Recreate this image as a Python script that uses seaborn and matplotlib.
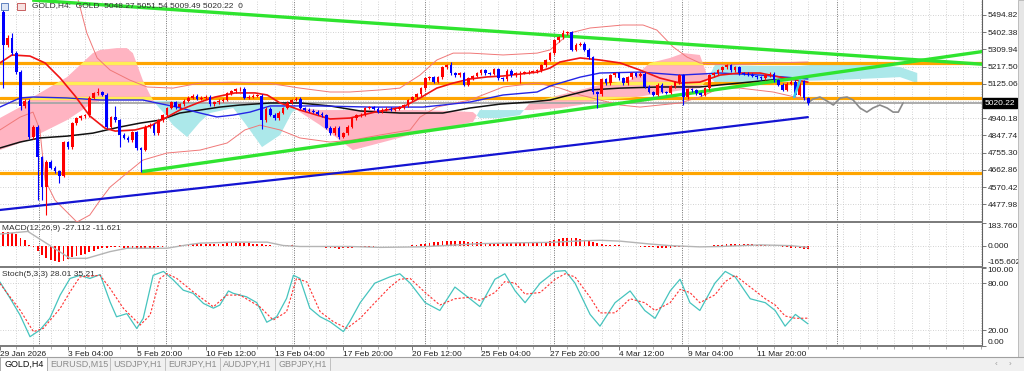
import matplotlib
matplotlib.use("Agg")
import matplotlib.pyplot as plt
from matplotlib.path import Path
from matplotlib.patches import Rectangle
from matplotlib.lines import Line2D
import matplotlib.transforms as mtransforms
import numpy as np
import pandas as pd
import seaborn as sns

sns.set_theme(style="white")
plt.rcParams["font.family"] = ["Liberation Sans Narrow", "Liberation Sans", "DejaVu Sans"]
plt.rcParams["axes.unicode_minus"] = False

# ---- GOLD H4 candles (bar 0 = 29 Jan 12:00) ----
first_open = 5511
closes = [
    5334, 5371, 5290, 5188, 5005, 5035, 4839, 4893, 4731, 4570,
    4705, 4673, 4655, 4630, 4810, 4785, 4914, 4940, 4950, 4955,
    5050, 5075, 5080, 5065, 4893, 4945, 4930, 4850, 4834, 4823,
    4866, 4780, 4770, 4893, 4905, 4860, 4930, 4955, 4995, 5025,
    5000, 5015, 5035, 5050, 5062, 5045, 5050, 5055, 5015, 5025,
    5035, 5040, 5075, 5085, 5095, 5098, 5050, 5055, 5060, 5062,
    4930, 4990, 4960, 4940, 4970, 4995, 5022, 5038, 5045, 4995,
    4985, 4980, 4975, 4965, 4957, 4890, 4860, 4890, 4840, 4860,
    4893, 4940, 4957, 4960, 4995, 5000, 4990, 4975, 4985, 4990,
    4985, 4992, 5000, 5011, 5038, 5054, 5070, 5102, 5156, 5161,
    5135, 5161, 5215, 5226, 5183, 5172, 5183, 5119, 5156, 5167,
    5183, 5199, 5183, 5178, 5204, 5156, 5150, 5194, 5172, 5183,
    5185, 5188, 5190, 5193, 5199, 5226, 5253, 5290, 5360, 5375,
    5398, 5402, 5307, 5334, 5340, 5307, 5269, 5080, 5070, 5150,
    5129, 5172, 5183, 5156, 5129, 5161, 5183, 5167, 5178, 5108,
    5081, 5065, 5119, 5081, 5076, 5113, 5134, 5172, 5054, 5095,
    5090, 5075, 5065, 5102, 5172, 5183, 5199, 5215, 5226, 5199,
    5215, 5183, 5180, 5175, 5167, 5160, 5156, 5172, 5178, 5145,
    5119, 5092, 5125, 5135, 5065, 5140, 5048.27, 5020.22,
]
upper_wick = [
    38, 18, 25, 12, 10, 8, 8, 8, 8, 8, 10, 8, 8, 8, 8, 8, 8, 8, 8, 8,
    8, 8, 20, 8, 8, 8, 60, 8, 8, 8, 8, 8, 8, 8, 8, 8, 8, 8, 8, 8,
    8, 8, 8, 8, 8, 8, 8, 8, 8, 8, 8, 8, 8, 8, 8, 8, 8, 8, 8, 8,
    6, 8, 8, 8, 8, 8, 8, 8, 8, 8, 8, 8, 8, 8, 8, 8, 8, 8, 8, 8,
    8, 8, 8, 8, 8, 8, 8, 8, 8, 8, 8, 8, 8, 8, 8, 8, 8, 8, 8, 8,
    8, 8, 8, 8, 15, 8, 8, 8, 8, 8, 8, 8, 8, 8, 8, 8, 8, 8, 8, 8,
    8, 8, 8, 8, 8, 8, 8, 8, 8, 8, 16, 8, 8, 8, 8, 8, 8, 8, 8, 8,
    8, 8, 8, 8, 8, 8, 8, 8, 8, 8, 8, 8, 8, 8, 8, 8, 8, 8, 8, 8,
    8, 8, 8, 8, 8, 8, 8, 8, 8, 8, 8, 8, 8, 8, 8, 8, 8, 8, 8, 8,
    8, 8, 8, 8, 8, 8, 5, 3.27,
]
lower_wick = [
    230, 10, 10, 10, 20, 8, 10, 8, 230, 70, 150, 8, 8, 40, 8, 8, 8, 8, 8, 8,
    8, 8, 8, 8, 8, 8, 8, 65, 8, 8, 8, 8, 120, 8, 8, 8, 8, 8, 8, 8,
    8, 8, 8, 8, 8, 8, 8, 8, 8, 8, 8, 8, 8, 8, 8, 8, 8, 8, 8, 8,
    50, 8, 8, 8, 8, 8, 8, 8, 8, 8, 8, 8, 8, 8, 8, 8, 8, 8, 10, 8,
    8, 8, 8, 8, 8, 8, 8, 8, 8, 8, 8, 8, 8, 8, 8, 8, 8, 8, 8, 8,
    8, 8, 8, 8, 8, 8, 8, 8, 8, 8, 8, 8, 8, 8, 8, 8, 8, 8, 8, 8,
    55, 8, 8, 8, 8, 8, 8, 8, 8, 8, 8, 8, 8, 8, 8, 8, 8, 8, 75, 8,
    8, 8, 8, 8, 8, 8, 8, 8, 8, 8, 8, 8, 8, 8, 8, 8, 8, 8, 45, 8,
    8, 8, 8, 8, 8, 8, 8, 8, 8, 8, 8, 8, 8, 8, 8, 8, 8, 8, 8, 8,
    8, 8, 8, 8, 8, 8, 8, 10.73,
]

# ---- moving averages / bands, sampled along the chart (bar, price) ----
red_bar = [-0.8, 2.0, 6.2, 9.7, 13.2, 16.7, 20.1, 23.6, 26.0, 30.6, 34.1, 37.6, 41.0, 45.7, 49.2,
           53.8, 58.5, 61.3, 64.3, 68.9, 75.9, 80.5, 86.3, 92.8, 96.8, 100.7, 104.5, 108.4, 112.4,
           116.1, 124.0, 127.0, 129.3, 134.0, 138.6, 143.3, 147.9, 152.5, 157.2, 161.8, 166.5,
           171.1, 175.8, 180.4, 186.9]
red_ma = [5237, 5280, 5274, 5237, 5156, 5059, 4952, 4887, 4871, 4877, 4898, 4941, 4984, 5027, 5054,
          5076, 5076, 5065, 5022, 4984, 4936, 4941, 4973, 5000, 5049, 5102, 5129, 5151, 5162,
          5167, 5188, 5210, 5242, 5264, 5253, 5237, 5199, 5156, 5129, 5134, 5172,
          5183, 5183, 5161, 5134]
blue_bar = [-0.8, 3.9, 6.9, 14.8, 22.5, 32.4, 35.7, 40.3, 45.7, 49.6, 53.4, 57.3, 62.0, 73.6, 85.2,
            97.5, 102.1, 108.4, 116.1, 124.0, 127.0, 129.3, 134.0, 138.6, 147.9, 157.2, 166.5,
            175.8, 186.9]
blue_ma = [5000, 5049, 5054, 5049, 5038, 5038, 5022, 5000, 4968, 4947, 4957, 4973, 5006, 5006, 5000,
           5000, 5011, 5027, 5065, 5081, 5113, 5129, 5161, 5183, 5188, 5172, 5183, 5172, 5151]
black_bar = [-0.8, 3.9, 8.5, 14.8, 20.8, 27.1, 31.8, 36.4, 41.0, 45.7, 50.3, 55.0, 62.0, 68.9, 75.9,
             82.9, 92.1, 102.1, 108.4, 115.4, 122.3, 127.0, 131.6, 136.3, 143.3, 152.5, 161.8,
             166.5, 178.1, 186.9]
black_ma = [4780, 4812, 4834, 4844, 4860, 4893, 4914, 4930, 4968, 4984, 5000, 5011, 5022, 5022, 5006,
            4979, 4968, 4968, 4995, 5016, 5027, 5038, 5065, 5092, 5102, 5108, 5108, 5119, 5145, 5161]
long_bar = [-0.8, 80.5, 161.8, 186.9]
long_ma = [4447, 4653, 4876, 4946]

bbu_bar = [13.2, 17.4, 19.4, 21.8, 24.8, 29.4, 33.4, 39.4, 45.7, 53.4, 61.3, 68.9, 75.9, 80.5, 87.5,
           92.1, 96.8, 100.7, 104.5, 108.4, 116.1, 124.0, 127.0, 131.6, 136.3, 143.9, 148.6, 151.8,
           155.6, 158.8, 161.8, 168.1, 178.8, 186.9]
bb_upper = [5790, 5575, 5398, 5264, 5199, 5145, 5108, 5102, 5129, 5134, 5129, 5102, 5081, 5081, 5092,
            5102, 5172, 5253, 5290, 5290, 5280, 5290, 5307, 5398, 5425, 5441, 5441, 5414,
            5323, 5269, 5237, 5226, 5237, 5242]
bbl_bar = [-0.8, 3.9, 6.9, 8.5, 9.7, 12.0, 17.1, 20.1, 22.5, 24.8, 28.7, 32.4, 38.0, 45.7, 52.0,
           56.1, 59.6, 64.3, 68.9, 75.9, 81.2, 87.5, 94.5, 96.8, 100.7, 108.4, 116.1, 124.0, 129.3,
           134.0, 138.6, 143.3, 147.9, 152.5, 157.2, 161.8, 166.5, 171.1, 178.8, 186.9]
bb_lower = [4877, 4946, 4973, 4877, 4608, 4500, 4382, 4420, 4500, 4570, 4645, 4715, 4753, 4769, 4807,
            4877, 4903, 4877, 4834, 4812, 4823, 4850, 4877, 4946, 5000, 5038, 5108, 5129, 5102,
            5065, 5038, 5011, 5000, 5011, 5022, 5054, 5102, 5102, 5081, 5038]

# ---- Ichimoku cloud (shifted 26 bars ahead) ----
kumo_bar = [-0.8, 3.9, 6.9, 14.8, 20.8, 22.5, 26.4, 28.7, 30.1, 32.4, 34.1, 35.2, 37.1, 39.4, 42.7,
            45.7, 48.0, 53.4, 56.1, 60.1, 64.3, 67.1, 68.9, 73.6, 81.2, 87.5, 96.1, 103.8, 109.1,
            110.7, 115.4, 120.0, 122.3, 129.3, 134.0, 138.6, 145.6, 150.2, 154.9, 158.0, 161.8,
            163.5, 165.3, 175.8, 185.1, 192.8, 203.7, 208.3, 212.3]
span_a = [4941, 5000, 5054, 5161, 5290, 5307, 5317, 5317, 5290, 5145, 5065, 5022, 4973, 4903, 4839,
          4920, 4968, 4995, 4914, 4785, 4850, 4973, 4995, 4984, 4984, 4984, 4984, 4979, 4973,
          4941, 4941, 4957, 5022, 5065, 5092, 5119, 5145, 5237, 5264, 5290, 5280,
          5172, 5134, 5134, 5140, 5145, 5156, 5161, 5129]
span_b = [4769, 4807, 4839, 4930, 5022, 5033, 5038, 5038, 5038, 5038, 5033, 5033, 5033, 5033, 5027,
          5027, 5022, 5022, 5016, 5016, 5016, 5006, 4973, 4903, 4769, 4807, 4860, 4893, 4920,
          4984, 4984, 4984, 4984, 4995, 5011, 5038, 5049, 5065, 5081, 5092, 5102,
          5145, 5226, 5221, 5221, 5237, 5226, 5215, 5183]

# ---- drawn objects ----
orange_levels = [5237, 5129, 5049, 4646]
bid_price = 5020.22
green_down = ([6.7, 212.9], [5575, 5253])
green_up = ([32.15, 227.3], [4653, 5298])
wave_bar = [186.9, 188.1, 189.7, 191.3, 192.8, 194.4, 196.0, 197.4, 199.0, 200.6, 202.0, 203.6,
            205.3, 206.7, 207.9, 209.0]
wave_price = [5022, 5043, 5054, 5033, 5011, 5049, 5054, 5038, 4995, 4973, 4995, 5011,
              4995, 4973, 4973, 5022]
cyan_bar = [183.7, 185.1]
cyan_price = [5054, 5145]
sep_bars = [8.3, 37.8, 67.5, 98.0, 128.0, 157.7, 193.7]

# ---- MACD(12,26,9) ----
macd_hist = [
    110, 110, 102, 98, 67, 48, 8, -5, -40, -77, -99, -112, -125, -130, -120, -107, -93, -83, -72, -64,
    -51, -40, -29, -19, -19, -13, -11, -12, -15, -18, -20, -22, -24, -22, -18, -14, -10, -6, -4, -2,
    0, 4, 8, 12, 15, 17, 18, 19, 18, 18, 18, 19, 20, 21, 22, 22, 21, 20, 19, 18,
    12, 8, 5, 3, 2, 3, 4, 4, 2, 0, -3, -5, -8, -10, -12, -15, -18, -20, -22, -20,
    -18, -15, -13, -11, -9, -7, -5, -4, -3, -2, -2, -1, 0, 1, 2, 4, 8, 12, 18, 24,
    28, 32, 36, 38, 40, 40, 38, 36, 34, 32, 30, 28, 27, 26, 25, 25, 24, 24, 23, 23,
    22, 22, 22, 23, 25, 28, 33, 40, 48, 55, 60, 62, 62, 60, 55, 50, 42, 30, 20, 14,
    10, 8, 6, 4, 2, 0, -2, -4, -6, -8, -10, -12, -14, -15, -15, -14, -12, -10, -9, -8,
    -6, -4, -2, 0, 2, 5, 8, 10, 12, 14, 15, 15, 14, 13, 12, 10, 8, 6, 4, 2,
    -2, -6, -10, -14, -16, -20, -24, -27.112,
]
macd_sig_bar = [-0.8, 5.7, 15.5, 19.4, 24.8, 28.7, 38.0, 42.7, 45.7, 53.4, 61.3, 65.0, 68.9, 80.5,
                87.5, 96.8, 103.8, 110.7, 120.0, 127.0, 134.0, 138.6, 143.3, 150.2, 154.9, 161.8,
                166.5, 175.8, 182.8, 186.9]
macd_sig = [95, 116, -100, -100, -46, -19, -19, 8, 22, 30, 30, 3, -5, -5,
            -12, -8, 5, 18, 25, 28, 40, 45, 38, 15, 2, -8,
            -5, 8, 2, -11.621]

# ---- Stochastic(5,3,3) ----
stoch_k_bar = [-0.8, 1.6, 3.9, 6.2, 8.5, 10.8, 13.2, 15.5, 17.8, 20.1, 22.5, 24.8, 26.3, 28.7, 31.0,
               32.5, 34.8, 37.2, 39.5, 41.8, 44.1, 46.5, 48.8, 50.3, 52.3, 53.4, 56.5, 58.9, 61.2,
               63.5, 65.8, 67.4, 68.9, 71.2, 73.6, 75.9, 79.0, 80.5, 82.9, 86.3, 89.8, 92.1, 94.5,
               98.0, 101.4, 104.9, 108.4, 110.7, 114.2, 116.5, 118.9, 121.2, 124.7, 128.2, 130.5,
               132.8, 136.3, 138.6, 142.1, 145.6, 149.0, 151.4, 154.9, 157.2, 159.5, 161.8, 165.3,
               167.7, 170.0, 173.5, 177.0, 179.3, 181.6, 184.0, 186.9]
stoch_k = [81.6, 60.5, 39, 11.5, 20, 35, 64.7, 86, 90, 86, 91, 56, 37, 41, 22,
           35, 90, 95, 84, 71, 67, 54, 48, 52, 70, 67, 62.5, 55, 30,
           37, 60.5, 90, 86, 48, 37, 30.6, 18, 31, 55, 80, 88, 92, 80,
           55, 45, 75, 60, 50, 85, 92, 70, 55, 80, 95, 96,
           80, 40, 25, 55, 70, 45, 35, 70, 85, 55, 45, 80,
           95, 88, 60, 55, 45, 25, 40, 28.01]
stoch_d_bar = [-0.8, 3.9, 7.0, 9.3, 13.2, 15.5, 17.8, 22.5, 24.8, 27.9, 31.8, 34.1, 36.4, 38.0,
               40.3, 44.1, 48.8, 51.9, 55.0, 59.6, 62.7, 65.8, 68.1, 70.5, 73.6, 76.7, 79.8,
               82.9, 86.3, 89.8, 92.1, 94.5, 98.0, 101.4, 104.9, 108.4, 110.7, 114.2, 116.5,
               118.9, 121.2, 124.7, 128.2, 130.5, 132.8, 136.3, 138.6, 142.1, 145.6, 149.0,
               151.4, 154.9, 157.2, 159.5, 161.8, 165.3, 167.7, 170.0, 173.5, 177.0, 179.3,
               181.6, 184.0, 186.9]
stoch_d = [79.6, 45.5, 17.9, 22.2, 47.7, 68.9, 88, 90, 73.2, 47.7, 26.4, 39.2, 86, 92.3,
           86, 68.9, 49.7, 64.7, 64.7, 49.7, 32.8, 43.4, 86, 81.6, 43.4, 30.6, 22.2,
           35, 55, 75, 85, 86, 68, 52, 60, 62, 58, 68, 82,
           80, 66, 68, 85, 92, 88, 62, 42, 42, 60, 55,
           45, 55, 72, 68, 55, 65, 82, 90, 75, 60, 52,
           38, 35, 35.21]

time_tick_bar = [-0.77, 15, 31, 47, 63, 79, 95, 111, 127, 143, 159, 175]
time_labels = ["29 Jan 2026", "3 Feb 04:00", "5 Feb 20:00", "10 Feb 12:00", "13 Feb 04:00",
               "17 Feb 20:00", "20 Feb 12:00", "25 Feb 04:00", "27 Feb 20:00", "4 Mar 12:00",
               "9 Mar 04:00", "11 Mar 20:00"]
price_ticks = [5494.82, 5402.38, 5309.94, 5217.50, 5125.06, 5032.62, 4940.18, 4847.74,
               4755.30, 4662.86, 4570.42, 4477.98]
tabs = ["GOLD,H4", "EURUSD,M15", "USDJPY,H1", "EURJPY,H1", "AUDJPY,H1", "GBPJPY,H1"]
tab_edges = [0, 48, 110, 165, 220, 275, 330]

# ---------------------------------------------------------------
W, H = 1024, 371
FS = 6
fig = plt.figure(figsize=(W / 100, H / 100), dpi=100)
fig.patch.set_facecolor("white")


def panel(top, bottom):
    return fig.add_axes([0, 1 - bottom / H, 982 / W, (bottom - top) / H])


ax = panel(0, 221.5)
axm = panel(223, 266.5)
axs = panel(267.5, 345.7)

GRID = "#C4C4C4"
grid_bars = np.arange(3, 228, 4)
for a in (ax, axm, axs):
    a.set_xlim(-0.767, 227.34)
    a.set_facecolor("white")
    a.spines["top"].set_visible(False)
    a.spines["left"].set_visible(False)
    a.spines["right"].set_color("#606060")
    a.spines["right"].set_linewidth(0.8)
    a.spines["bottom"].set_color("#7A7A7A")
    a.spines["bottom"].set_linewidth(1.4)
    a.yaxis.tick_right()
    a.tick_params(axis="y", direction="out", length=3, width=0.6, colors="#606060",
                  labelsize=FS, pad=1, labelcolor="#202020")
    a.tick_params(axis="x", bottom=False, labelbottom=False)
    for b in grid_bars:
        a.axvline(b, color=GRID, lw=0.6, ls=(0, (1, 2)), zorder=0)
    for b in sep_bars:
        a.axvline(b, color="#6E6E6E", lw=0.7, ls=(0, (1, 1.4)), zorder=0.5)

# ---------------- main price panel ----------------
ax.set_ylim(4385.1, 5575.4)
ax.set_yticks(price_ticks)
ax.set_yticklabels(["" if abs(p - 5032.62) < 0.01 else f"{p:.2f}" for p in price_ticks])
for p in price_ticks:
    ax.axhline(p, color=GRID, lw=0.6, ls=(0, (1, 2)), zorder=0)

a_arr = np.array(span_a, float)
b_arr = np.array(span_b, float)
pink = ax.fill_between(kumo_bar, a_arr, b_arr, where=a_arr >= b_arr, interpolate=True,
                       color="#FFB4C2", lw=0, zorder=1)
ax.fill_between(kumo_bar, a_arr, b_arr, where=a_arr <= b_arr, interpolate=True,
                color="#ACE8EA", lw=0, zorder=1)

pink_path = Path.make_compound_path(*pink.get_paths())
for lvl in orange_levels:
    ax.axhline(lvl, color="#FFA500", lw=2.3, zorder=2)
    ln = ax.axhline(lvl, color="#FFEE55", lw=2.3, zorder=2.1)
    ln.set_clip_path(pink_path, ax.transData)
ax.axhline(bid_price, color="#A6A6A6", lw=1.3, zorder=2.2)

lines = [
    (bbu_bar, bb_upper, "#F07878", 0.7),
    (bbl_bar, bb_lower, "#F07878", 0.7),
    (black_bar, black_ma, "#111111", 1.1),
    (blue_bar, blue_ma, "#2424E6", 1.0),
    (red_bar, red_ma, "#F01414", 1.2),
    (long_bar, long_ma, "#1414D2", 1.6),
]
for xs, ys, col, lw in lines:
    sns.lineplot(x=xs, y=ys, ax=ax, color=col, lw=lw, estimator=None, zorder=3, legend=False)

for (gx, gy) in (green_down, green_up):
    slope = (gy[1] - gy[0]) / (gx[1] - gx[0])
    x_end = 230
    ax.plot([gx[0], x_end], [gy[0], gy[0] + slope * (x_end - gx[0])],
            color="#2FE42F", lw=2.4, zorder=4, solid_capstyle="butt")

sns.lineplot(x=wave_bar, y=wave_price, ax=ax, color="#8A8A8A", lw=1.2, estimator=None,
             sort=False, zorder=4, legend=False)
sns.lineplot(x=cyan_bar, y=cyan_price, ax=ax, color="#38C8EC", lw=1.8, estimator=None,
             zorder=6, legend=False)

# candles
o = np.array([first_open] + closes[:-1], float)
c = np.array(closes, float)
hi = np.maximum(o, c) + np.array(upper_wick, float)
lo = np.minimum(o, c) - np.array(lower_wick, float)
bars = np.arange(len(c))
cols = np.where(c > o, "#FF0000", "#0000FF")
body = c - o
body = np.where(np.abs(body) < 2.5, np.where(body >= 0, 2.5, -2.5), body)
ax.vlines(bars, lo, hi, colors=cols, lw=0.8, zorder=5)
ax.bar(bars, body, bottom=o, width=0.62, color=cols, linewidth=0, zorder=5.1)

ax.set_xlabel("")
ax.set_ylabel("")

# current price box
trans = mtransforms.blended_transform_factory(ax.transAxes, ax.transData)
ax.text(1.003, bid_price, f"{bid_price:.2f}", transform=trans, ha="left", va="center",
        fontsize=FS, color="white", clip_on=False, zorder=10,
        bbox=dict(boxstyle="square,pad=0.2", fc="black", ec="black"))

# header
ax.text(32 / 982, 1 - 6 / 221.5, "GOLD,H4:  GOLD  5048.27 5051.54 5009.49 5020.22  0",
        transform=ax.transAxes, fontsize=FS, va="center", ha="left", color="#303030", zorder=10)
ax.add_patch(Rectangle((1 / 982, 1 - 10 / 221.5), 7 / 982, 7 / 221.5, transform=ax.transAxes,
                       fc="#DDE6F5", ec="#4A6FB5", lw=0.6, zorder=10))
ax.add_patch(Rectangle((17 / 982, 1 - 10 / 221.5), 8 / 982, 7 / 221.5, transform=ax.transAxes,
                       fc="#F7E2E2", ec="#C04848", lw=0.6, zorder=10))

# ---------------- MACD panel ----------------
axm.set_ylim(-165.602, 183.76)
axm.axhline(0, color=GRID, lw=0.6, ls=(0, (1, 2)), zorder=0)
axm.bar(np.arange(len(macd_hist)), macd_hist, width=0.42, color="#FF0000", linewidth=0, zorder=3)
sns.lineplot(x=macd_sig_bar, y=macd_sig, ax=axm, color="#B4B4B4", lw=1.0, estimator=None,
             zorder=4, legend=False)
axm.set_yticks([183.76, 0, -165.602])
axm.set_yticklabels(["183.760", "0.000", "-165.602"])
tl = axm.get_yticklabels()
tl[0].set_va("top")
tl[2].set_va("bottom")
axm.text(2 / 982, 0.88, "MACD(12,26,9) -27.112 -11.621", transform=axm.transAxes, fontsize=FS,
         va="center", ha="left", color="#303030")
axm.set_xlabel("")
axm.set_ylabel("")

# ---------------- Stochastic panel ----------------
axs.set_ylim(0, 100)
for lvl in (80, 20):
    axs.axhline(lvl, color=GRID, lw=0.6, ls=(0, (1, 2)), zorder=0)
sns.lineplot(x=stoch_k_bar, y=stoch_k, ax=axs, color="#46C4BE", lw=0.9, estimator=None,
             zorder=3, legend=False)
sns.lineplot(x=stoch_d_bar, y=stoch_d, ax=axs, color="#FF3030", lw=0.8, estimator=None,
             zorder=4, legend=False, linestyle=(0, (2, 1.6)))
axs.set_yticks([100, 80, 20, 0])
axs.set_yticklabels(["100.00", "80.00", "20.00", "0.00"])
tl = axs.get_yticklabels()
tl[0].set_va("top")
tl[3].set_va("bottom")
axs.text(2 / 982, 1 - 7 / 78.2, "Stoch(5,3,3) 28.01 35.21", transform=axs.transAxes, fontsize=FS,
         va="center", ha="left", color="#303030")
axs.set_xticks(time_tick_bar)
axs.set_xticklabels(time_labels)
axs.set_xticks(grid_bars, minor=True)
axs.tick_params(axis="x", which="major", bottom=True, labelbottom=True, direction="out", length=3,
                width=0.6, colors="#606060", labelsize=FS, pad=1, labelcolor="#202020")
axs.tick_params(axis="x", which="minor", bottom=True, direction="out", length=2, width=0.5,
                colors="#909090")
for lbl in axs.get_xticklabels():
    lbl.set_ha("left")
axs.set_xlabel("")
axs.set_ylabel("")

# ---------------- window chrome ----------------
fig.patches.append(Rectangle((1018 / W, 14 / H), 6 / W, 1 - 14 / H, transform=fig.transFigure,
                             fc="#E6E6E6", ec="#B4B4B4", lw=0.6, zorder=0))
fig.patches.append(Rectangle((0, 0), 1, 14 / H, transform=fig.transFigure,
                             fc="#F0F0F0", ec="none", zorder=0))
fig.add_artist(Line2D([0, 1], [14 / H, 14 / H], transform=fig.transFigure, color="#A0A0A0", lw=0.8))
fig.patches.append(Rectangle((0, 0), 47 / W, 14 / H, transform=fig.transFigure,
                             fc="white", ec="#A0A0A0", lw=0.6, zorder=1))
for i, name in enumerate(tabs):
    x0, x1 = tab_edges[i], tab_edges[i + 1]
    fig.text((x0 + x1) / 2 / W, 6.5 / H, name, ha="center", va="center", fontsize=6.5,
             color="#111111" if i == 0 else "#8C8C8C")
    if i > 0:
        fig.add_artist(Line2D([x1 / W, x1 / W], [1 / H, 13 / H], transform=fig.transFigure,
                              color="#B8B8B8", lw=0.6))
fig.text(996 / W, 6.5 / H, "‹", ha="center", va="center", fontsize=6, color="#9A9A9A")
fig.text(1010 / W, 6.5 / H, "›", ha="center", va="center", fontsize=6, color="#9A9A9A")

fig.savefig("out.png", dpi=100, facecolor="white")
